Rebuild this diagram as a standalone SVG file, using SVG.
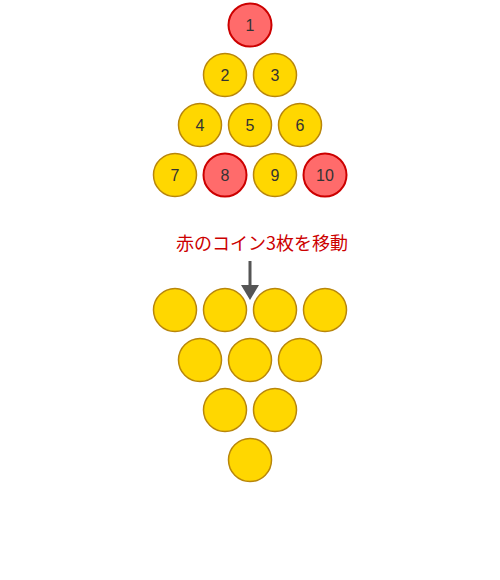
<svg xmlns="http://www.w3.org/2000/svg" width="500" height="580" viewBox="0 0 500 580">
<style>
.g{fill:#FFD700;stroke:#B8860B;stroke-width:1.5}
.r{fill:#FF6B6B;stroke:#CC0000;stroke-width:2}
.t{font-family:"Liberation Sans",Arial,sans-serif;font-size:16px;fill:#333;text-anchor:middle;dominant-baseline:central}
.lbl{font-family:"Noto Sans CJK JP","Liberation Sans",sans-serif;font-size:18px;fill:#CC0000;text-anchor:middle;dominant-baseline:central}
</style>
<rect width="500" height="580" fill="#fff"/>
<g id="c1"><circle class="r" cx="250" cy="25" r="21.5"/><text class="t" x="250" y="25">1</text></g>
<g id="c2"><circle class="g" cx="225" cy="75" r="21.5"/><text class="t" x="225" y="75">2</text></g>
<g id="c3"><circle class="g" cx="275" cy="75" r="21.5"/><text class="t" x="275" y="75">3</text></g>
<g id="c4"><circle class="g" cx="200" cy="125" r="21.5"/><text class="t" x="200" y="125">4</text></g>
<g id="c5"><circle class="g" cx="250" cy="125" r="21.5"/><text class="t" x="250" y="125">5</text></g>
<g id="c6"><circle class="g" cx="300" cy="125" r="21.5"/><text class="t" x="300" y="125">6</text></g>
<g id="c7"><circle class="g" cx="175" cy="175" r="21.5"/><text class="t" x="175" y="175">7</text></g>
<g id="c8"><circle class="r" cx="225" cy="175" r="21.5"/><text class="t" x="225" y="175">8</text></g>
<g id="c9"><circle class="g" cx="275" cy="175" r="21.5"/><text class="t" x="275" y="175">9</text></g>
<g id="c10"><circle class="r" cx="325" cy="175" r="21.5"/><text class="t" x="325" y="175">10</text></g>
<g id="label"><text class="lbl" x="262" y="242">赤のコイン3枚を移動</text></g>
<g id="connectors">
<line x1="250" y1="261" x2="250" y2="287" stroke="#555" stroke-width="3"/>
<polygon points="241,285 259,285 250,300" fill="#555"/>
</g>
<g id="b1"><circle class="g" cx="175" cy="310" r="21.5"/></g>
<g id="b2"><circle class="g" cx="225" cy="310" r="21.5"/></g>
<g id="b3"><circle class="g" cx="275" cy="310" r="21.5"/></g>
<g id="b4"><circle class="g" cx="325" cy="310" r="21.5"/></g>
<g id="b5"><circle class="g" cx="200" cy="360" r="21.5"/></g>
<g id="b6"><circle class="g" cx="250" cy="360" r="21.5"/></g>
<g id="b7"><circle class="g" cx="300" cy="360" r="21.5"/></g>
<g id="b8"><circle class="g" cx="225" cy="410" r="21.5"/></g>
<g id="b9"><circle class="g" cx="275" cy="410" r="21.5"/></g>
<g id="b10"><circle class="g" cx="250" cy="460" r="21.5"/></g>
</svg>
